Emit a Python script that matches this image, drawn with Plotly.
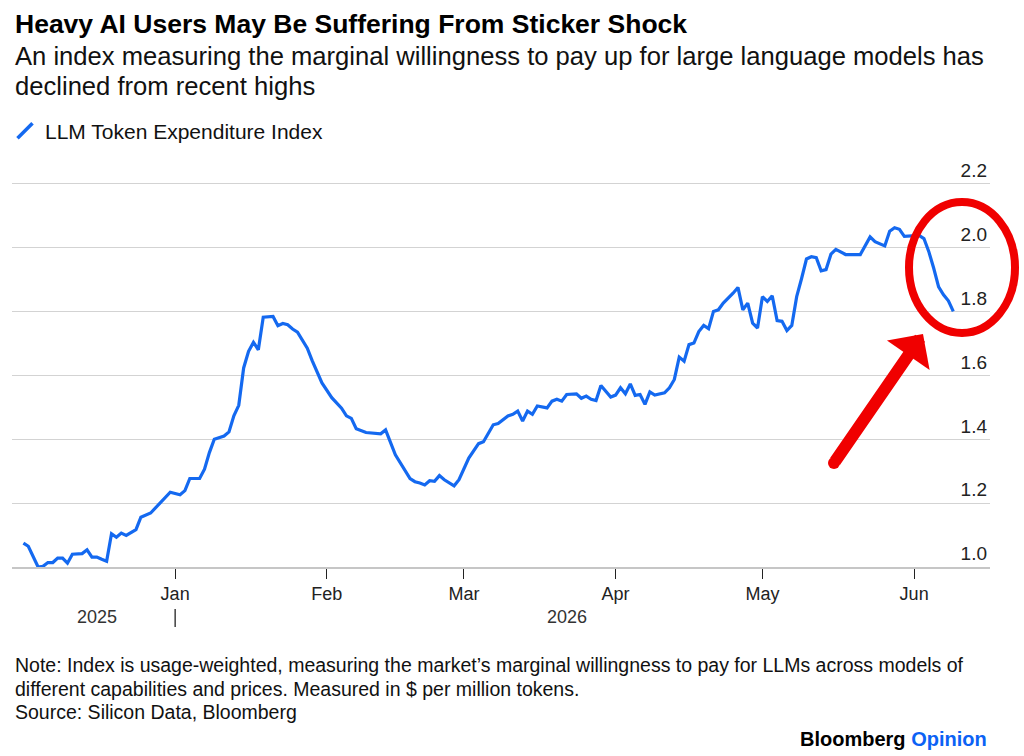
import datetime as dt
import plotly.graph_objects as go

# ---------------- data ----------------
dates = [
    "2025-12-01", "2025-12-02", "2025-12-04", "2025-12-05", "2025-12-06", "2025-12-07",
    "2025-12-08", "2025-12-09", "2025-12-10", "2025-12-11", "2025-12-13", "2025-12-14",
    "2025-12-15", "2025-12-16", "2025-12-17", "2025-12-18", "2025-12-19", "2025-12-20",
    "2025-12-21", "2025-12-22", "2025-12-24", "2025-12-25", "2025-12-27", "2025-12-28",
    "2025-12-30", "2025-12-31",
    "2026-01-02", "2026-01-03", "2026-01-04", "2026-01-06", "2026-01-07", "2026-01-08",
    "2026-01-09", "2026-01-11", "2026-01-12", "2026-01-13", "2026-01-14", "2026-01-15",
    "2026-01-16", "2026-01-17", "2026-01-18", "2026-01-19", "2026-01-21", "2026-01-22",
    "2026-01-23", "2026-01-24", "2026-01-25", "2026-01-26", "2026-01-28", "2026-01-29",
    "2026-01-31",
    "2026-02-01", "2026-02-02", "2026-02-04", "2026-02-05", "2026-02-06", "2026-02-07",
    "2026-02-09", "2026-02-12", "2026-02-13", "2026-02-15", "2026-02-18", "2026-02-19",
    "2026-02-20", "2026-02-21", "2026-02-22", "2026-02-23", "2026-02-24", "2026-02-25",
    "2026-02-27", "2026-02-28",
    "2026-03-02", "2026-03-04", "2026-03-05", "2026-03-07", "2026-03-08", "2026-03-10",
    "2026-03-11", "2026-03-12", "2026-03-13", "2026-03-14", "2026-03-15", "2026-03-16",
    "2026-03-18", "2026-03-19", "2026-03-20", "2026-03-21", "2026-03-22", "2026-03-24",
    "2026-03-25", "2026-03-26", "2026-03-27", "2026-03-28", "2026-03-29", "2026-03-30",
    "2026-03-31",
    "2026-04-01", "2026-04-02", "2026-04-03", "2026-04-04", "2026-04-05", "2026-04-06",
    "2026-04-07", "2026-04-08", "2026-04-09", "2026-04-11", "2026-04-12", "2026-04-13",
    "2026-04-14", "2026-04-15", "2026-04-16", "2026-04-17", "2026-04-18", "2026-04-19",
    "2026-04-20", "2026-04-21", "2026-04-22", "2026-04-23", "2026-04-25", "2026-04-26",
    "2026-04-27", "2026-04-28", "2026-04-29", "2026-04-30",
    "2026-05-01", "2026-05-02", "2026-05-03", "2026-05-04", "2026-05-05", "2026-05-06",
    "2026-05-07", "2026-05-08", "2026-05-09", "2026-05-10", "2026-05-11", "2026-05-12",
    "2026-05-13", "2026-05-14", "2026-05-15", "2026-05-16", "2026-05-18", "2026-05-21",
    "2026-05-23", "2026-05-24", "2026-05-26", "2026-05-27", "2026-05-28", "2026-05-29",
    "2026-05-30",
    "2026-06-01", "2026-06-02", "2026-06-03", "2026-06-04", "2026-06-05", "2026-06-06",
    "2026-06-07", "2026-06-08", "2026-06-09",
]

index_values = [
    1.075, 1.065, 1.000, 1.002, 1.014, 1.014,
    1.028, 1.028, 1.012, 1.040, 1.042, 1.054,
    1.031, 1.031, 1.024, 1.018, 1.104, 1.093,
    1.106, 1.099, 1.117, 1.156, 1.169, 1.185,
    1.215, 1.234,
    1.226, 1.239, 1.277, 1.277, 1.306, 1.358,
    1.400, 1.410, 1.423, 1.473, 1.506, 1.623,
    1.675, 1.703, 1.680, 1.782, 1.784, 1.755,
    1.762, 1.758, 1.745, 1.735, 1.685, 1.646,
    1.576,
    1.553, 1.530, 1.497, 1.473, 1.465, 1.433,
    1.421, 1.417, 1.429, 1.351, 1.277, 1.267,
    1.263, 1.257, 1.270, 1.268, 1.286, 1.273,
    1.254, 1.273,
    1.341, 1.386, 1.392, 1.445, 1.449, 1.473,
    1.478, 1.488, 1.457, 1.488, 1.478, 1.504,
    1.498, 1.519, 1.525, 1.519, 1.540, 1.542,
    1.528, 1.535, 1.525, 1.521, 1.568, 1.550,
    1.532,
    1.538, 1.561, 1.542, 1.573, 1.537, 1.540,
    1.509, 1.548, 1.538, 1.545, 1.561, 1.587,
    1.657, 1.644, 1.696, 1.701, 1.737, 1.756,
    1.746, 1.800, 1.805, 1.826, 1.857, 1.875,
    1.805, 1.826, 1.763, 1.748,
    1.846, 1.831, 1.849, 1.771, 1.769, 1.740,
    1.756, 1.846, 1.903, 1.964, 1.971, 1.968,
    1.927, 1.931, 1.979, 1.994, 1.978, 1.978,
    2.033, 2.018, 2.005, 2.051, 2.062, 2.057,
    2.035,
    2.038, 2.038, 2.028, 1.987, 1.935, 1.877,
    1.852, 1.833, 1.800,
]

month_ticks = ["2026-01-01", "2026-02-01", "2026-03-01", "2026-04-01", "2026-05-01", "2026-06-01"]
month_labels = ["Jan", "Feb", "Mar", "Apr", "May", "Jun"]
y_ticks = [1.0, 1.2, 1.4, 1.6, 1.8, 2.0, 2.2]
y_labels = ["1.0", "1.2", "1.4", "1.6", "1.8", "2.0", "2.2"]
years = ["2025", "2026"]

series_name = "LLM Token Expenditure Index"
title = "Heavy AI Users May Be Suffering From Sticker Shock"
subtitle_1 = "An index measuring the marginal willingness to pay up for large language models has"
subtitle_2 = "declined from recent highs"
note_lines = [
    "Note: Index is usage-weighted, measuring the market\u2019s marginal willingness to pay for LLMs across models of",
    "different capabilities and prices. Measured in $ per million tokens.",
    "Source: Silicon Data, Bloomberg",
]

# ---------------- style / layout ----------------
BLUE = "#1469f0"
RED = "#f00000"
FONT = "Liberation Sans, Arial, Helvetica, sans-serif"
W, H = 1024, 756
ML, MR, MT, MB = 12, 34, 150, 189
PW, PH = W - ML - MR, H - MT - MB
PX_PER_UNIT = 319.5


def px_x(x):
    return (x - ML) / PW


def px_y(y):
    return (H - MB - y) / PH


fig = go.Figure()
fig.add_trace(go.Scatter(
    x=dates, y=index_values, mode="lines",
    line=dict(color=BLUE, width=3.2),
    showlegend=False, name=series_name,
))
# legend entry with a slanted line icon
fig.add_trace(go.Scatter(
    x=[None], y=[None], mode="markers", name=series_name,
    marker=dict(symbol="line-ne", size=15, color=BLUE, line=dict(width=3.5, color=BLUE)),
    showlegend=True,
))

annotations = [
    dict(text="<b>" + title + "</b>", x=px_x(13), y=px_y(23.5), font=dict(size=26.5, color="#000")),
    dict(text=subtitle_1, x=px_x(13), y=px_y(55.5), font=dict(size=25.6, color="#111")),
    dict(text=subtitle_2, x=px_x(13), y=px_y(85.5), font=dict(size=25.6, color="#111")),
]
for i, line in enumerate(note_lines):
    annotations.append(dict(text=line, x=px_x(13), y=px_y(665 + 23.5 * i),
                            font=dict(size=19.5, color="#111")))
annotations.append(dict(
    text="<b>Bloomberg</b> <b><span style='color:#0b62f5'>Opinion</span></b>",
    x=px_x(989), y=px_y(739), xanchor="right", font=dict(size=20, color="#000")))
for a in annotations:
    a.setdefault("xanchor", "left")
    a.update(xref="paper", yref="paper", yanchor="middle", showarrow=False)

# year labels centred on each year's data span
for yr in years:
    yd = [d for d in dates if d.startswith(yr)]
    d0 = dt.date.fromisoformat(yd[0])
    d1 = dt.date.fromisoformat(yd[-1])
    mid = d0 + (d1 - d0) / 2
    annotations.append(dict(text=yr, x=mid.isoformat(), xref="x", y=px_y(617), yref="paper",
                            showarrow=False, xanchor="center", yanchor="middle",
                            font=dict(size=18, color="#333")))

# red arrow
annotations.append(dict(
    text="", x=px_x(923), y=px_y(334), xref="paper", yref="paper",
    showarrow=True, ax=-89, ay=129, axref="pixel", ayref="pixel",
    arrowhead=1, arrowsize=0.72, arrowwidth=12, arrowcolor=RED, standoff=0,
))

shapes = [
    # year separator below Jan
    dict(type="line", xref="x", yref="paper", x0="2026-01-01", x1="2026-01-01",
         y0=px_y(609), y1=px_y(627), line=dict(color="#222", width=1.3)),
    # red ellipse
    dict(type="circle", xref="paper", yref="paper",
         x0=px_x(909), x1=px_x(1015), y0=px_y(333), y1=px_y(202),
         line=dict(color=RED, width=8)),
    # rounded tail of the arrow
    dict(type="circle", xref="paper", yref="paper",
         x0=px_x(828), x1=px_x(840), y0=px_y(469), y1=px_y(457),
         fillcolor=RED, line=dict(width=0)),
]

fig.update_layout(
    width=W, height=H,
    margin=dict(l=ML, r=MR, t=MT, b=MB, pad=0, autoexpand=False),
    paper_bgcolor="white", plot_bgcolor="white",
    font=dict(family=FONT, color="#111"),
    showlegend=True,
    legend=dict(x=px_x(5), y=px_y(131), xanchor="left", yanchor="middle",
                font=dict(size=21, color="#111"), bgcolor="rgba(0,0,0,0)",
                itemsizing="trace"),
    annotations=annotations,
    shapes=shapes,
    xaxis=dict(
        type="date", range=["2025-11-28 16:00", "2026-06-16 12:00"],
        tickvals=month_ticks, ticktext=month_labels,
        ticks="outside", ticklen=10, tickwidth=1.3, tickcolor="#222",
        showgrid=False, showline=True, linecolor="#c6c6c6", linewidth=1.5,
        zeroline=False, tickfont=dict(size=18, color="#222"),
        fixedrange=True, automargin=False,
    ),
    yaxis=dict(
        range=[1.0, 1.0 + PH / PX_PER_UNIT], side="right",
        tickvals=y_ticks, ticktext=y_labels,
        ticks="", ticklabelposition="inside top",
        showgrid=True, gridcolor="#d3d3d3", gridwidth=1.3,
        zeroline=False, showline=False,
        tickfont=dict(size=19, color="#222"),
        fixedrange=True, automargin=False,
    ),
)

fig.write_html("out.html")
